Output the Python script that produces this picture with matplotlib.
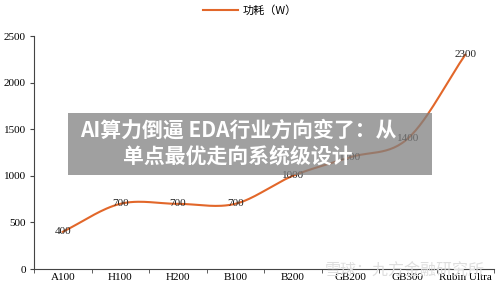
import numpy as np
import matplotlib.pyplot as plt
from matplotlib.patches import Rectangle

chips = ["A100", "H100", "H200", "B100", "B200", "GB200", "GB300", "Rubin Ultra"]
power_w = [400, 700, 700, 700, 1000, 1200, 1400, 2300]
series_name = "功耗（W）"
title_lines = ["AI算力倒逼 EDA行业方向变了：从", "单点最优走向系统级设计"]
watermark = "雪球：九方金融研究所"

plt.rcParams['font.family'] = ['Liberation Serif', 'Noto Sans CJK SC']


def catmull_rom(x, y, n=30):
    # smooth line through the points, like Excel's smoothed line
    x = np.asarray(x, float)
    y = np.asarray(y, float)
    px = np.concatenate([[2 * x[0] - x[1]], x, [2 * x[-1] - x[-2]]])
    py = np.concatenate([[2 * y[0] - y[1]], y, [2 * y[-1] - y[-2]]])
    xs, ys = [], []
    t = np.linspace(0, 1, n)
    for i in range(1, len(px) - 2):
        for p, out in ((px, xs), (py, ys)):
            p0, p1, p2, p3 = p[i - 1], p[i], p[i + 1], p[i + 2]
            out.append(0.5 * ((2 * p1) + (-p0 + p2) * t
                              + (2 * p0 - 5 * p1 + 4 * p2 - p3) * t ** 2
                              + (-p0 + 3 * p1 - 3 * p2 + p3) * t ** 3))
    return np.concatenate(xs), np.concatenate(ys)


fig = plt.figure(figsize=(5, 2.89), dpi=100)
ax = fig.add_axes([0.068, 0.069, 0.92, 0.806])

xpos = np.arange(len(chips))
sx, sy = catmull_rom(xpos, power_w)
line, = ax.plot(sx, sy, color="#E2672A", lw=1.5, label=series_name)

for xi, v in zip(xpos, power_w):
    ax.text(xi, v, str(v), ha="center", va="center", fontsize=8, color="#222222")

ax.set_xlim(-0.5, len(chips) - 0.5)
ax.set_ylim(0, 2500)
ax.set_yticks(range(0, 2501, 500))
ax.set_xticks(xpos)
ax.set_xticklabels(chips)
ax.set_xticks(np.arange(-0.5, len(chips), 1), minor=True)
ax.tick_params(axis="x", which="major", length=0, labelsize=8, pad=3)
ax.tick_params(axis="x", which="minor", length=3, color="#444444")
ax.tick_params(axis="y", length=3, labelsize=8, color="#444444", pad=3)
for s in ["top", "right"]:
    ax.spines[s].set_visible(False)
ax.spines["left"].set_color("#444444")
ax.spines["bottom"].set_color("#444444")

fig.legend(handles=[line], loc="center", bbox_to_anchor=(0.5, 0.965), frameon=False,
           prop={"family": ["Noto Sans CJK SC"], "size": 8}, handlelength=3.2,
           handletextpad=0.4)

# grey headline banner over the chart
fig.patches.append(Rectangle((0.136, 0.395), 0.728, 0.213, transform=fig.transFigure,
                             facecolor="#808080", alpha=0.75, edgecolor="none", zorder=5))
fig.text(0.477, 0.55, title_lines[0], ha="center", va="center", color="white",
         fontsize=15, fontweight="heavy", family=["Noto Sans CJK SC"], zorder=6)
fig.text(0.475, 0.457, title_lines[1], ha="center", va="center", color="white",
         fontsize=15, fontweight="heavy", family=["Noto Sans CJK SC"], zorder=6)

fig.text(0.81, 0.062, watermark, ha="center", va="center", color="#dedede",
         fontsize=11.5, family=["Noto Sans CJK SC"], zorder=6)

fig.savefig("out.png", dpi=100, facecolor="white")
